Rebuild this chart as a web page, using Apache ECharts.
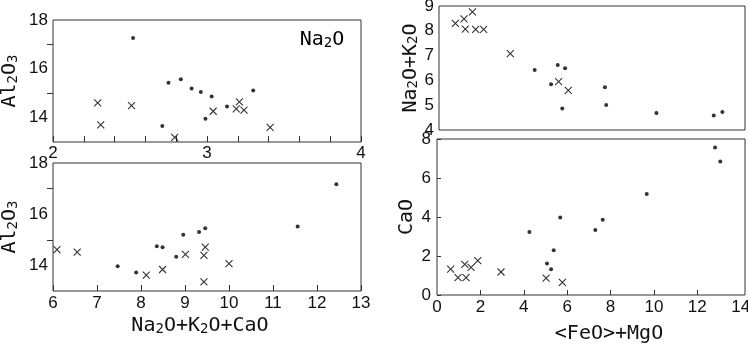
<!DOCTYPE html>
<html>
<head>
<meta charset="utf-8">
<script src="https://cdn.jsdelivr.net/npm/echarts@6/dist/echarts.min.js"></script>
<style>
html, body { margin: 0; padding: 0; background: #fff; }
#chart { width: 748px; height: 348px; }
</style>
</head>
<body>
<div id="chart"></div>
<script>
// top left: Na2O vs Al2O3
var tlDotX = [2.52, 2.75, 2.83, 2.90, 2.96, 3.03, 2.99, 2.71, 3.13, 3.30];
var tlDotY = [17.26, 15.43, 15.57, 15.19, 15.05, 14.86, 13.95, 13.66, 14.45, 15.11];
var tlCrossX = [2.29, 2.31, 2.51, 2.79, 3.04, 3.21, 3.19, 3.24, 3.41];
var tlCrossY = [14.60, 13.70, 14.49, 13.19, 14.26, 14.64, 14.36, 14.31, 13.60];

// bottom left: Na2O+K2O+CaO vs Al2O3
var blDotX = [12.44, 11.56, 9.46, 9.32, 8.96, 8.36, 8.49, 8.80, 7.47, 7.89];
var blDotY = [17.17, 15.52, 15.45, 15.30, 15.20, 14.75, 14.71, 14.34, 13.97, 13.72];
var blCrossX = [6.09, 6.55, 9.01, 9.43, 9.46, 8.49, 8.12, 9.43, 10.00];
var blCrossY = [14.62, 14.52, 14.43, 14.39, 14.71, 13.84, 13.62, 13.36, 14.07];

// top right: <FeO>+MgO vs Na2O+K2O
var trDotX = [4.44, 5.51, 5.85, 5.20, 5.72, 7.70, 7.76, 10.09, 12.75, 13.15];
var trDotY = [6.42, 6.62, 6.49, 5.84, 4.87, 5.72, 5.01, 4.69, 4.58, 4.73];
var trCrossX = [0.76, 1.16, 1.55, 1.22, 1.70, 2.07, 3.31, 5.55, 6.00];
var trCrossY = [8.30, 8.48, 8.76, 8.07, 8.06, 8.06, 7.08, 5.95, 5.60];

// bottom right: <FeO>+MgO vs CaO
var brDotX = [4.26, 5.68, 5.38, 5.07, 5.26, 7.30, 7.64, 9.67, 12.82, 13.06];
var brDotY = [3.23, 3.98, 2.29, 1.61, 1.32, 3.33, 3.86, 5.18, 7.57, 6.84];
var brCrossX = [0.63, 0.97, 1.34, 1.28, 1.57, 1.88, 2.95, 5.03, 5.78];
var brCrossY = [1.33, 0.89, 0.89, 1.57, 1.42, 1.76, 1.18, 0.87, 0.65];

// tick labels
var tlXLabels = [2, 3, 4];
var alLabels = [14, 16, 18];
var alTicks = [15, 17];
var brXLabels = [0, 2, 4, 6, 8, 10, 12, 14];
var brXTicks = [2, 4, 6, 8, 10, 12];

var monoFont = '"DejaVu Sans Mono", monospace';
var tickFont = '"Liberation Sans", Arial, sans-serif';
var ink = '#111';

// digits become subscripts
function formula(s) {
    return s.replace(/([^0-9]+)|([0-9]+)/g, function (m, txt, num) {
        return txt ? '{n|' + txt + '}' : '{s|' + num + '}';
    });
}
var richChem = {
    n: { fontFamily: monoFont, fontSize: 20, color: ink },
    s: { fontFamily: monoFont, fontSize: 14, color: ink, verticalAlign: 'bottom' }
};

function zip(xs, ys) {
    return xs.map(function (x, i) { return [x, ys[i]]; });
}

var crossPath = 'path://M0,0L10,10M10,0L0,10';

function dots(xi, xs, ys) {
    return {
        type: 'scatter', xAxisIndex: xi, yAxisIndex: xi,
        symbol: 'circle', symbolSize: 4,
        itemStyle: { color: '#000' },
        data: zip(xs, ys)
    };
}
function crosses(xi, xs, ys) {
    return {
        type: 'scatter', xAxisIndex: xi, yAxisIndex: xi,
        symbol: crossPath, symbolSize: 7,
        itemStyle: { color: '#000', borderColor: '#000', borderWidth: 1.1 },
        data: zip(xs, ys)
    };
}

function baseAxis(gi, min, max) {
    return {
        type: 'value', gridIndex: gi, min: min, max: max,
        axisLine: { show: false },
        splitLine: { show: false },
        axisTick: { show: false },
        axisLabel: { color: ink, fontFamily: tickFont, fontSize: 17, showMinLabel: true, showMaxLabel: true },
        nameTextStyle: { rich: richChem }
    };
}

var gridStyle = { show: true, borderColor: '#333', borderWidth: 1, containLabel: false, outerBoundsMode: 'none' };

var x0 = baseAxis(0, 2, 4);
x0.interval = 0.2;
x0.axisTick = { show: true, inside: true, length: 6, lineStyle: { color: '#333' } };
x0.axisLabel.customValues = tlXLabels;
x0.axisLabel.margin = 3;

var x1 = baseAxis(1, 6, 13);
x1.interval = 1;
x1.axisTick = { show: true, inside: true, length: 6, lineStyle: { color: '#333' } };
x1.axisLabel.margin = 4;
x1.name = formula('Na2O+K2O+CaO');
x1.nameLocation = 'middle';
x1.nameGap = 25;
x1.nameTextStyle.padding = [0, 14, 0, 0];

var x2 = baseAxis(2, 0, 14.2);
x2.axisLabel.show = false;

var x3 = baseAxis(3, 0, 14.2);
x3.axisTick = { show: true, inside: true, length: 5, customValues: brXTicks, lineStyle: { color: '#333' } };
x3.axisLabel.customValues = brXLabels;
x3.axisLabel.margin = 4;
x3.name = formula('<FeO>+MgO');
x3.nameLocation = 'middle';
x3.nameGap = 29;
x3.nameTextStyle.padding = [0, 0, 0, 36];

function alAxis(gi) {
    var a = baseAxis(gi, 13, 18);
    a.axisTick = { show: true, inside: false, length: 6, customValues: alTicks, lineStyle: { color: '#333' } };
    a.axisLabel.customValues = alLabels;
    a.axisLabel.margin = 5;
    a.name = formula('Al2O3');
    a.nameLocation = 'middle';
    a.nameGap = 33;
    return a;
}
var y0 = alAxis(0);
var y1 = alAxis(1);

var y2 = baseAxis(2, 4, 9);
y2.interval = 1;
y2.axisLabel.margin = 5;
y2.name = formula('Na2O+K2O');
y2.nameLocation = 'middle';
y2.nameGap = 15;

var y3 = baseAxis(3, 0, 8);
y3.interval = 2;
y3.axisTick = { show: true, inside: true, length: 4, lineStyle: { color: '#333' } };
y3.axisLabel.margin = 6;
y3.name = formula('CaO');
y3.nameLocation = 'middle';
y3.nameGap = 20;

var chart = echarts.init(document.getElementById('chart'));
chart.setOption({
    animation: false,
    backgroundColor: '#fff',
    grid: [
        Object.assign({ left: 53, top: 20, width: 308, height: 122 }, gridStyle),
        Object.assign({ left: 53, top: 163, width: 308, height: 128 }, gridStyle),
        Object.assign({ left: 439, top: 6, width: 306, height: 124 }, gridStyle),
        Object.assign({ left: 437, top: 139, width: 308, height: 156 }, gridStyle)
    ],
    xAxis: [x0, x1, x2, x3],
    yAxis: [y0, y1, y2, y3],
    graphic: [{
        type: 'text',
        style: {
            x: 322, y: 40,
            text: formula('Na2O'),
            rich: richChem,
            align: 'center',
            verticalAlign: 'middle'
        }
    }],
    series: [
        dots(0, tlDotX, tlDotY), crosses(0, tlCrossX, tlCrossY),
        dots(1, blDotX, blDotY), crosses(1, blCrossX, blCrossY),
        dots(2, trDotX, trDotY), crosses(2, trCrossX, trCrossY),
        dots(3, brDotX, brDotY), crosses(3, brCrossX, brCrossY)
    ]
});
</script>
</body>
</html>
